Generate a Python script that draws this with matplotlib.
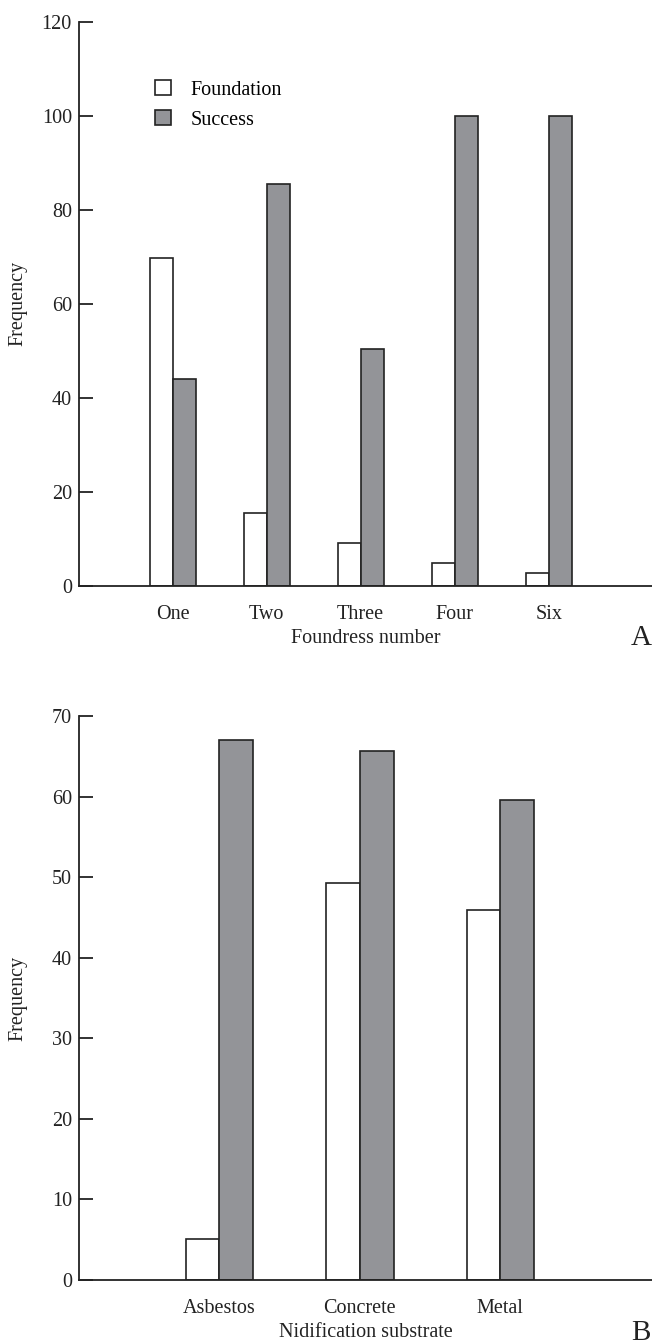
import matplotlib
matplotlib.use("Agg")
import matplotlib.pyplot as plt
import numpy as np

plt.rcParams['font.family'] = ['Liberation Serif', 'DejaVu Serif']

# Panel A data
foundress_cats = ["One", "Two", "Three", "Four", "Six"]
foundation_A = [69.8, 15.6, 9.1, 4.8, 2.7]
success_A = [44.0, 85.5, 50.4, 100, 100]
yticks_A = [0, 20, 40, 60, 80, 100, 120]

# Panel B data
substrate_cats = ["Asbestos", "Concrete", "Metal"]
foundation_B = [5.1, 49.3, 45.9]
success_B = [67.0, 65.6, 59.6]
yticks_B = [0, 10, 20, 30, 40, 50, 60, 70]

series_names = ["Foundation", "Success"]
white = "#ffffff"
gray = "#939498"
INK = "#222222"
FS = 14.5

fig = plt.figure(figsize=(6.52, 13.43), dpi=100)


def style(ax, ymax, yticks, cats, xmax):
    ax.set_ylim(0, ymax)
    ax.set_xlim(0, xmax)
    ax.set_yticks(yticks)
    ax.set_xticks(np.arange(1, len(cats) + 1))
    ax.set_xticklabels(cats)
    for s in ["top", "right"]:
        ax.spines[s].set_visible(False)
    for s in ["left", "bottom"]:
        ax.spines[s].set_linewidth(1.3)
        ax.spines[s].set_color(INK)
    ax.tick_params(axis="y", direction="in", length=10, width=1.3,
                   labelsize=FS, pad=5, colors=INK)
    ax.tick_params(axis="x", length=0, labelsize=FS, pad=14, colors=INK)
    ax.set_ylabel("Frequency", fontsize=FS, color=INK)
    ax.yaxis.set_label_coords(-0.089, 0.5)


# Panel A
axA = fig.add_axes([0.121, 0.5637, 0.879, 0.42])
xA = np.arange(1, len(foundress_cats) + 1)
w = 0.245
axA.bar(xA - w / 2, foundation_A, w, color=white, edgecolor=INK,
        linewidth=1.2, label=series_names[0])
axA.bar(xA + w / 2, success_A, w, color=gray, edgecolor=INK,
        linewidth=1.2, label=series_names[1])
style(axA, 120, yticks_A, foundress_cats, 6.1)
axA.set_xlabel("Foundress number", fontsize=FS, labelpad=3, color=INK)
axA.legend(loc="upper left", bbox_to_anchor=(0.101, 0.929), frameon=False,
           fontsize=FS, handlelength=0.8, handleheight=0.8,
           handletextpad=0.95, labelspacing=0.5)
fig.text(0.983, 0.5253, "A", fontsize=21, ha="center", va="center", color=INK)

# Panel B
axB = fig.add_axes([0.121, 0.0469, 0.879, 0.42])
xB = np.arange(1, len(substrate_cats) + 1)
wB = 0.24
axB.bar(xB - wB / 2, foundation_B, wB, color=white, edgecolor=INK, linewidth=1.2)
axB.bar(xB + wB / 2, success_B, wB, color=gray, edgecolor=INK, linewidth=1.2)
style(axB, 70, yticks_B, substrate_cats, 4.08)
axB.set_xlabel("Nidification substrate", fontsize=FS, labelpad=3, color=INK)
fig.text(0.983, 0.0078, "B", fontsize=21, ha="center", va="center", color=INK)

fig.savefig("out.png", dpi=100, facecolor="white")
